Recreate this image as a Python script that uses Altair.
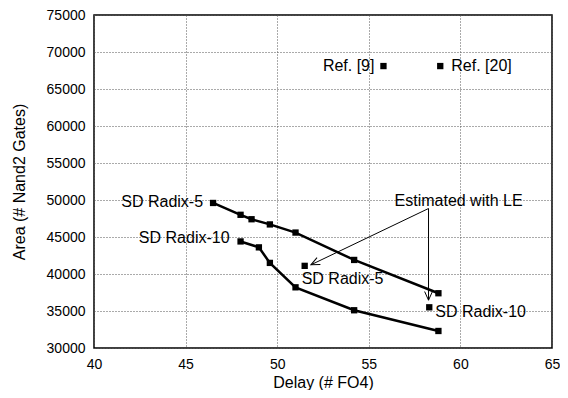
import math
import altair as alt
import pandas as pd

# ---- data ----
r5_x = [46.5, 48.0, 48.6, 49.6, 51.0, 54.2, 58.8]
r5_y = [49600, 48000, 47400, 46700, 45600, 41900, 37400]
r10_x = [48.0, 49.0, 49.6, 51.0, 54.2, 58.8]
r10_y = [44400, 43600, 41500, 38200, 35100, 32300]
est_x = [51.5, 58.3]
est_y = [41100, 35500]
est_labels = ["SD Radix-5", "SD Radix-10"]
ref_x = [55.8, 58.9]
ref_y = [68100, 68100]
ref_labels = ["Ref. [9]", "Ref. [20]"]
x_ticks = [40, 45, 50, 55, 60, 65]
y_ticks = [30000, 35000, 40000, 45000, 50000, 55000, 60000, 65000, 70000, 75000]
# annotation: "Estimated with LE" with two arrows
note_text = ["Estimated with LE"]
note_x = [59.9]
note_y = [49850]
arrow_from_x = [58.26, 58.26]
arrow_from_y = [48850, 48850]
arrow_to_x = [51.84, 58.26]
arrow_to_y = [41240, 36460]

W, H = 458, 333
XD = [40, 65]
YD = [30000, 75000]
FONT = "Liberation Sans"
FS = 16

xs = alt.Scale(domain=XD, nice=False, zero=False)
ys = alt.Scale(domain=YD, nice=False, zero=False)

xax = alt.Axis(values=x_ticks, title="Delay (# FO4)", grid=True, ticks=False,
               domain=False, labelPadding=9, titleY=39, titleBaseline="alphabetic",
               format="d", labelOverlap=False, labelFlush=False, tickCount=6)
yax = alt.Axis(values=y_ticks, title="Area (# Nand2 Gates)", grid=True, ticks=False,
               domain=False, labelPadding=9, titlePadding=19, format="d",
               labelOverlap=False, labelFlush=False, tickCount=10)


def X(field):
    return alt.X(field, type="quantitative", scale=xs, axis=xax)


def Y(field):
    return alt.Y(field, type="quantitative", scale=ys, axis=yax)


lines = pd.concat([
    pd.DataFrame({"x": r5_x, "y": r5_y, "s": "r5"}),
    pd.DataFrame({"x": r10_x, "y": r10_y, "s": "r10"}),
])

base_line = alt.Chart(lines).mark_line(color="black", strokeWidth=2.5).encode(
    x=X("x"), y=Y("y"), detail="s:N")
pts = alt.Chart(lines).mark_square(color="black", size=40, opacity=1).encode(
    x=X("x"), y=Y("y"))

line_labels = pd.DataFrame({"x": [r5_x[0], r10_x[0]], "y": [r5_y[0], r10_y[0]],
                            "t": ["SD Radix-5", "SD Radix-10"]})
ll1 = alt.Chart(line_labels.iloc[[0]]).mark_text(
    align="right", baseline="middle", dx=-10, dy=-1,
    font=FONT, fontSize=FS, color="black").encode(x=X("x"), y=Y("y"), text="t:N")
ll2 = alt.Chart(line_labels.iloc[[1]]).mark_text(
    align="right", baseline="middle", dx=-11, dy=-3,
    font=FONT, fontSize=FS, color="black").encode(x=X("x"), y=Y("y"), text="t:N")

refs = pd.DataFrame({"x": ref_x, "y": ref_y, "t": ref_labels})
ref_pts = alt.Chart(refs).mark_square(color="black", size=40, opacity=1).encode(
    x=X("x"), y=Y("y"))
ref_t1 = alt.Chart(refs.iloc[[0]]).mark_text(
    align="right", baseline="middle", dx=-9, font=FONT, fontSize=FS).encode(
    x=X("x"), y=Y("y"), text="t:N")
ref_t2 = alt.Chart(refs.iloc[[1]]).mark_text(
    align="left", baseline="middle", dx=11, font=FONT, fontSize=FS).encode(
    x=X("x"), y=Y("y"), text="t:N")

est = pd.DataFrame({"x": est_x, "y": est_y, "t": est_labels})
est_pts = alt.Chart(est).mark_square(color="black", size=40, opacity=1).encode(
    x=X("x"), y=Y("y"))
est_t1 = alt.Chart(est.iloc[[0]]).mark_text(
    align="left", baseline="middle", dx=-3, dy=13, font=FONT, fontSize=FS).encode(
    x=X("x"), y=Y("y"), text="t:N")
est_t2 = alt.Chart(est.iloc[[1]]).mark_text(
    align="left", baseline="middle", dx=6, dy=5, font=FONT, fontSize=FS).encode(
    x=X("x"), y=Y("y"), text="t:N")

note = pd.DataFrame({"x": note_x, "y": note_y, "t": note_text})
note_t = alt.Chart(note).mark_text(
    align="center", baseline="middle", font=FONT, fontSize=FS).encode(
    x=X("x"), y=Y("y"), text="t:N")


def px(v, d, size):
    return (v - d[0]) / (d[1] - d[0]) * size


angles = []
for fx, fy, tx, ty in zip(arrow_from_x, arrow_from_y, arrow_to_x, arrow_to_y):
    dxp = px(tx, XD, W) - px(fx, XD, W)
    dyp = -(px(ty, YD, H) - px(fy, YD, H))
    angles.append((math.degrees(math.atan2(dyp, dxp)) + 360) % 360)

arrows = pd.DataFrame({"x": arrow_from_x, "y": arrow_from_y,
                       "x2": arrow_to_x, "y2": arrow_to_y, "a": angles})
arr_lines = alt.Chart(arrows).mark_rule(color="black", strokeWidth=1).encode(
    x=X("x"), y=Y("y"), x2="x2:Q", y2="y2:Q")
arr_heads = alt.Chart(arrows).mark_point(
    shape="M-1,-0.45L0,0L-1,0.45", filled=False, color="black", strokeWidth=1,
    size=300, opacity=1).encode(
    x=X("x2"), y=Y("y2"), angle=alt.Angle("a:Q", scale=None))

chart = alt.layer(
    base_line, pts, ll1, ll2, ref_pts, ref_t1, ref_t2, est_pts, est_t1, est_t2,
    arr_lines, arr_heads, note_t
).properties(
    width=W, height=H,
    autosize=alt.AutoSizeParams(type="none"),
    padding={"left": 86, "top": 7, "right": 8, "bottom": 42},
).configure_view(
    stroke="black", strokeWidth=1.5
).configure_axis(
    labelFont=FONT, titleFont=FONT, labelFontSize=14, titleFontSize=16,
    labelColor="black", titleColor="black", titleFontWeight="normal",
    gridColor="#555", gridDash=[1, 2], gridWidth=1, gridOpacity=1,
)

chart.save("out.html", embed_options={"renderer": "svg", "actions": False})
